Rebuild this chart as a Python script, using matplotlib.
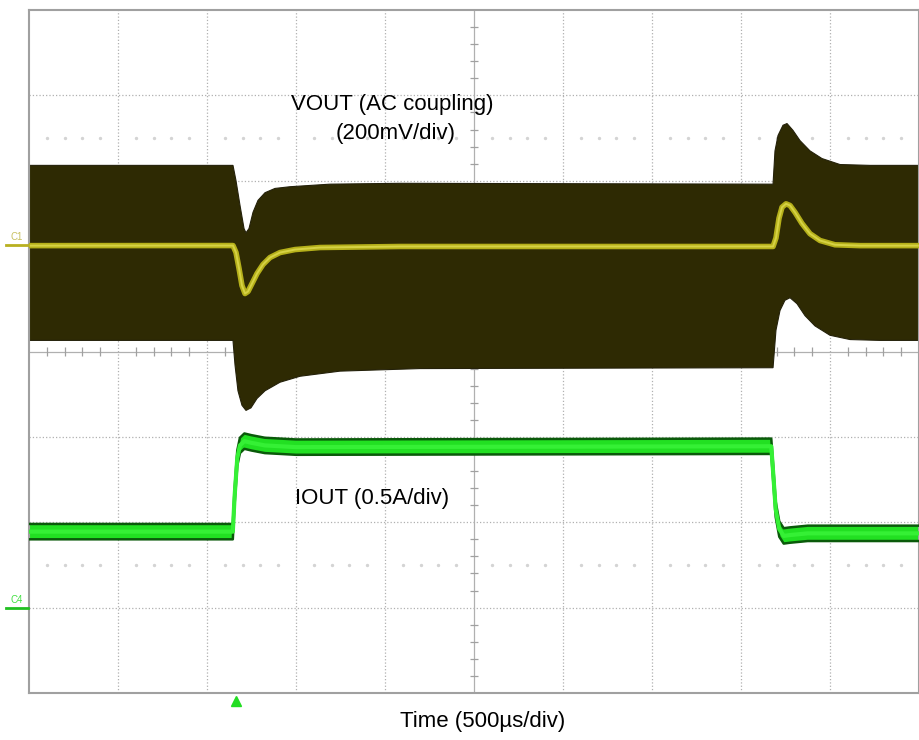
import numpy as np
import matplotlib.pyplot as plt

plt.rcParams['font.family'] = ['Liberation Sans', 'DejaVu Sans']

# 時間軸：以格 (div) 為單位，500us/div，共 10 格
# VOUT (AC coupling, 200mV/div) 平均線
vout_t = [0.0, 2.292, 2.326, 2.360, 2.393, 2.427, 2.461, 2.506, 2.562, 2.629, 2.708, 2.820, 2.989, 3.270, 4.169,
          8.360, 8.393, 8.427, 8.461, 8.506, 8.551, 8.607, 8.685, 8.775, 8.888, 9.056, 9.337, 10.0]
vout_mean = [1.24, 1.241, 1.159, 0.972, 0.773, 0.679, 0.703, 0.796, 0.913, 1.019, 1.101, 1.159, 1.194, 1.218, 1.23,
             1.23, 1.33, 1.56, 1.69, 1.73, 1.71, 1.63, 1.50, 1.38, 1.30, 1.25, 1.24, 1.24]

# VOUT 雜訊包絡（上緣 / 下緣）
env_up_t = [0.0, 2.292, 2.326, 2.371, 2.416, 2.438, 2.472, 2.517, 2.573, 2.652, 2.764, 2.933, 3.382, 4.169,
            8.360, 8.382, 8.416, 8.472, 8.517, 8.584, 8.663, 8.775, 8.910, 9.112, 9.449, 10.0]
env_up = [2.18, 2.18, 2.00, 1.71, 1.44, 1.39, 1.44, 1.63, 1.77, 1.86, 1.91, 1.93, 1.96, 1.97,
          1.96, 2.35, 2.53, 2.65, 2.67, 2.59, 2.47, 2.35, 2.26, 2.19, 2.18, 2.18]
env_lo_t = [0.0, 2.292, 2.315, 2.348, 2.393, 2.438, 2.494, 2.562, 2.652, 2.820, 3.045, 3.494, 4.393,
            8.360, 8.393, 8.438, 8.494, 8.551, 8.629, 8.719, 8.831, 9.000, 9.225, 9.562, 10.0]
env_lo = [0.13, 0.13, -0.16, -0.46, -0.63, -0.69, -0.66, -0.55, -0.46, -0.36, -0.29, -0.23, -0.20,
          -0.19, 0.25, 0.48, 0.60, 0.63, 0.56, 0.42, 0.30, 0.19, 0.14, 0.13, 0.13]

# IOUT (0.5A/div)
iout_t = [0.0, 2.29, 2.31, 2.34, 2.37, 2.42, 2.50, 2.65, 3.00, 8.34, 8.36, 8.39, 8.43, 8.48, 8.55, 8.75, 10.0]
iout = [-2.11, -2.11, -1.70, -1.25, -1.10, -1.05, -1.07, -1.10, -1.12, -1.11, -1.40, -1.85, -2.08, -2.16, -2.15, -2.13, -2.13]
iout_half = 0.09

fig = plt.figure(figsize=(9.2, 7.4), dpi=100)
ax = fig.add_axes([29 / 920, 1 - 693 / 740, 890 / 920, 683 / 740])
ax.set_xlim(0, 10)
ax.set_ylim(-4, 4)
ax.set_xticks([])
ax.set_yticks([])
for s in ax.spines.values():
    s.set_color('#a0a0a0')
    s.set_linewidth(1.5)

# 格線
for gx in range(1, 10):
    if gx != 5:
        ax.axvline(gx, color='#b0b0b0', ls=':', lw=0.9, zorder=0)
for gy in range(-3, 4):
    if gy != 0:
        ax.axhline(gy, color='#b0b0b0', ls=':', lw=0.9, zorder=0)
ax.axvline(5, color='#b0b0b0', lw=0.9, zorder=0)
ax.axhline(0, color='#b0b0b0', lw=0.9, zorder=0)

# 中心線上的小刻度 + 點列
minor = np.arange(0.2, 10, 0.2)
minor = minor[np.abs(minor - np.round(minor)) > 0.05]
ax.vlines(minor, -0.05, 0.05, color='#a0a0a0', lw=0.9, zorder=0)
ax.scatter(minor, np.full_like(minor, 2.5), s=2, color='#d4d4d4', zorder=0)
ax.scatter(minor, np.full_like(minor, -2.5), s=2, color='#d4d4d4', zorder=0)
minor_y = np.arange(-3.8, 4, 0.2)
minor_y = minor_y[np.abs(minor_y - np.round(minor_y)) > 0.05]
ax.hlines(minor_y, 4.96, 5.04, color='#a0a0a0', lw=0.9, zorder=0)

# VOUT 包絡
ax.fill(np.r_[env_up_t, env_lo_t[::-1]], np.r_[env_up, env_lo[::-1]], color='#2e2a03', lw=0.8,
        ec='#24210a', zorder=2)
ax.plot(vout_t, vout_mean, color='#b5b01a', lw=4, zorder=3)
ax.plot(vout_t, vout_mean, color='#d6d244', lw=1.4, zorder=3)

# IOUT
iout_lo = np.array(iout) - iout_half
iout_hi = np.array(iout) + iout_half
ax.fill_between(iout_t, iout_lo, iout_hi, color='#22e022', lw=0, zorder=2)
ax.plot(iout_t, iout_hi, color='#0a5a0a', lw=1.8, zorder=3)
ax.plot(iout_t, iout_lo, color='#0a5a0a', lw=1.8, zorder=3)
ax.plot(iout_t, iout, color='#35f035', lw=3, zorder=3)

# 觸發點
ax.plot([2.33], [-4.09], marker='^', color='#22dd22', ms=7, clip_on=False)

# 文字
ax.text(4.08, 2.89, 'VOUT (AC coupling)', ha='center', va='center', fontsize=16)
ax.text(4.12, 2.55, '(200mV/div)', ha='center', va='center', fontsize=16)
ax.text(3.86, -1.72, 'IOUT (0.5A/div)', ha='center', va='center', fontsize=16)
fig.text(483 / 920, 1 - 721 / 740, 'Time (500µs/div)', ha='center', va='center', fontsize=16)

# 通道標記
fig.text(17 / 920, 1 - 237 / 740, 'C1', color='#c8c060', fontsize=7, ha='center', va='center')
fig.add_artist(plt.Line2D([6 / 920, 28 / 920], [1 - 245 / 740] * 2, color='#b8b020', lw=2))
fig.text(17 / 920, 1 - 600 / 740, 'C4', color='#40e040', fontsize=7, ha='center', va='center')
fig.add_artist(plt.Line2D([6 / 920, 28 / 920], [1 - 608 / 740] * 2, color='#20c020', lw=2))

fig.savefig('out.png', dpi=100)
